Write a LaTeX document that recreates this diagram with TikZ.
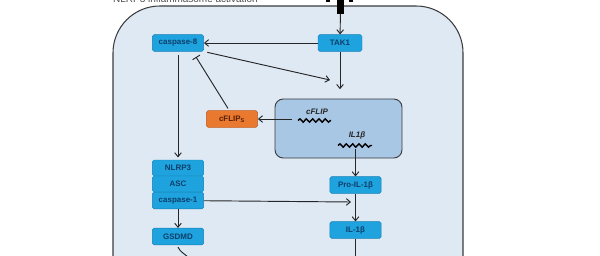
\documentclass[tikz,border=0pt]{standalone}
\usepackage{fontspec}
\setmainfont{Liberation Sans}
\usetikzlibrary{positioning,arrows.meta,decorations.pathmorphing}
\definecolor{cellfill}{HTML}{DFE9F4}
\definecolor{cellline}{HTML}{3C3C3C}
\definecolor{nucfill}{HTML}{A8C7E5}
\definecolor{protfill}{HTML}{1FA3DE}
\definecolor{protline}{HTML}{1580B5}
\definecolor{prottext}{HTML}{0C3F6B}
\definecolor{flipfill}{HTML}{E8792F}
\definecolor{flipline}{HTML}{C25C1A}
\definecolor{fliptext}{HTML}{5A1E00}

\begin{document}
\begin{tikzpicture}[x=0.03cm, y=-0.03cm,
    prot/.style={draw=protline, fill=protfill, rounded corners=1.5pt, text=prottext,
      font=\fontsize{6.8}{7}\selectfont\bfseries, minimum width=1.54cm, minimum height=0.5cm, inner sep=1pt},
    flipbox/.style={prot, draw=flipline, fill=flipfill, text=fliptext},
    arr/.style={-{Straight Barb[length=1.2mm,width=2mm]}, draw=black!85, line width=0.8pt},
    inh/.style={-{Bar[width=2.6mm]}, draw=black!85, line width=0.8pt},
    gene/.style={font=\fontsize{6.8}{7}\selectfont\bfseries\itshape, text=black!85},
    wave/.style={decorate, decoration={snake, segment length=1.9mm, amplitude=0.5mm}, line width=1.2pt}]
  \useasboundingbox (0,0) rectangle (600,255);
  \clip (0,0) rectangle (600,255);

  \node[anchor=base west, font=\fontsize{8.5}{9}\selectfont, text=black!70, inner sep=0pt] (title) at (113,3) {NLRP3 inflammasome activation};

  \draw[cellline, fill=cellfill, line width=0.9pt, rounded corners=40] (113,6) rectangle (463,320);

  \fill[black] (326,-4) rectangle (330,2);
  \fill[black] (349,-4) rectangle (353,2);
  \node[fill=black, minimum width=0.2cm, minimum height=0.4cm, inner sep=0pt, anchor=north] (receptor) at (340.5,0) {};

  \node[prot, minimum width=1.32cm] (tak) at (340,43) {TAK1};
  \node[prot] (casp8) at (178,43) {caspase-8};

  \node[draw=cellline, fill=nucfill, rounded corners=7pt, line width=0.8pt,
    minimum width=3.81cm, minimum height=1.77cm] (nuc) at (338.5,128.5) {};
  \node[gene] (cflip) at (317,112) {cFLIP};
  \draw[wave] (298,120.5) -- (331,120.5);
  \coordinate (cflipend) at (292,119);
  \node[gene] (il1b) at (357,135) {IL1β};
  \draw[wave] (338,145.5) -- (372,145.5);
  \coordinate (il1bend) at (355.5,149);

  \node[flipbox] (flips) at (232,119) {cFLIP\textsubscript{S}};

  \node[prot, minimum height=0.48cm] (nlrp) at (178,168) {NLRP3};
  \node[prot, minimum height=0.48cm] (asc) at (178,184) {ASC};
  \node[prot, minimum height=0.5cm] (casp1) at (178,200.5) {caspase-1};
  \node[prot] (gsdmd) at (178,236.5) {GSDMD};

  \node[prot] (proil) at (355.5,185) {Pro-IL-1β};
  \node[prot] (il) at (355.5,230) {IL-1β};

  \coordinate (toNuc) at (330,80);
  \coordinate (bar) at (196,57);
  \coordinate (cut) at (351,202);
  \coordinate (down) at (355.5,260);

  \draw[arr] (receptor) -- (tak);
  \draw[arr] (tak) -- (casp8);
  \draw[arr, shorten >=8pt] (tak) -- (tak |- nuc.north);
  \draw[arr, shorten <=3pt] (casp8.south east) -- (toNuc);
  \draw[arr, shorten <=3pt, shorten >=2pt] (casp8) -- (nlrp);
  \draw[inh] (flips.north) ++(-4,-2) -- (bar);
  \draw[arr] (cflipend) -- (flips);
  \draw[arr] (il1bend) -- (proil);
  \draw[arr] (proil) -- (il);
  \draw[arr] (casp1) -- (cut);
  \draw[arr] (casp1) -- (gsdmd);
  \draw[draw=black!85, line width=0.8pt] (il) -- (down);
  \draw[draw=black!85, line width=0.8pt] (gsdmd.south) ++(0,2) .. controls (180,252) and (185,254) .. (189,258);
\end{tikzpicture}
\end{document}
